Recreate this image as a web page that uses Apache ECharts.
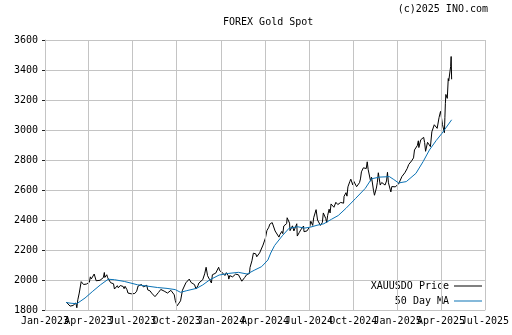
<!DOCTYPE html>
<html>
<head>
<meta charset="utf-8">
<script src="https://cdn.jsdelivr.net/npm/echarts@6/dist/echarts.min.js"></script>
<style>
html,body{margin:0;padding:0;background:#fff;}
#chart{width:512px;height:335px;}
</style>
</head>
<body>
<div id="chart"></div>
<script>
const titleText = 'FOREX Gold Spot';
const copyrightText = '(c)2025 INO.com';
const priceName = 'XAUUSDO Price';
const maName = '50 Day MA';

const tickDates = ['2023-01-01','2023-04-01','2023-07-01','2023-10-01','2024-01-01','2024-04-01','2024-07-01','2024-10-01','2025-01-01','2025-04-01','2025-07-01'];
const tickLabels = ['Jan-2023','Apr-2023','Jul-2023','Oct-2023','Jan-2024','Apr-2024','Jul-2024','Oct-2024','Jan-2025','Apr-2025','Jul-2025'];
const yTicks = [1800, 2000, 2200, 2400, 2600, 2800, 3000, 3200, 3400, 3600];

const priceDates = [
'2023-02-14','2023-02-17','2023-02-22','2023-02-24','2023-02-28','2023-03-02','2023-03-06','2023-03-08','2023-03-10','2023-03-13',
'2023-03-15','2023-03-17','2023-03-20','2023-03-22','2023-03-24','2023-03-28','2023-03-30','2023-04-03','2023-04-05','2023-04-07',
'2023-04-11','2023-04-13','2023-04-17','2023-04-19','2023-04-21','2023-04-25','2023-04-28','2023-05-02','2023-05-04','2023-05-05',
'2023-05-09','2023-05-11','2023-05-15','2023-05-17','2023-05-19','2023-05-23','2023-05-25','2023-05-29','2023-05-31','2023-06-02',
'2023-06-06','2023-06-08','2023-06-12','2023-06-14','2023-06-16','2023-06-20','2023-06-22','2023-06-26','2023-06-29','2023-07-03',
'2023-07-06','2023-07-10','2023-07-13','2023-07-17','2023-07-20','2023-07-24','2023-07-27','2023-07-31','2023-08-02','2023-08-07',
'2023-08-10','2023-08-14','2023-08-17','2023-08-21','2023-08-24','2023-08-29','2023-08-31','2023-09-05','2023-09-07','2023-09-12',
'2023-09-15','2023-09-19','2023-09-21','2023-09-26','2023-09-28','2023-10-02','2023-10-05','2023-10-09','2023-10-12','2023-10-13',
'2023-10-17','2023-10-20','2023-10-24','2023-10-27','2023-10-31','2023-11-03','2023-11-07','2023-11-10','2023-11-14','2023-11-16',
'2023-11-20','2023-11-24','2023-11-28','2023-12-01','2023-12-04','2023-12-06','2023-12-08','2023-12-12','2023-12-14','2023-12-18',
'2023-12-21','2023-12-27','2023-12-29',
'2024-01-02','2024-01-05','2024-01-09','2024-01-12','2024-01-16','2024-01-17','2024-01-19','2024-01-23','2024-01-25','2024-01-29',
'2024-01-31','2024-02-02','2024-02-06','2024-02-08','2024-02-13','2024-02-15','2024-02-19','2024-02-21','2024-02-23','2024-02-27',
'2024-02-29','2024-03-01','2024-03-05','2024-03-08','2024-03-11','2024-03-13','2024-03-15','2024-03-19','2024-03-21','2024-03-25',
'2024-03-28','2024-04-02','2024-04-04','2024-04-05','2024-04-09','2024-04-11','2024-04-12','2024-04-16','2024-04-19','2024-04-22',
'2024-04-24','2024-04-26','2024-04-30','2024-05-02','2024-05-06','2024-05-08','2024-05-10','2024-05-14','2024-05-16','2024-05-17',
'2024-05-20','2024-05-22','2024-05-23','2024-05-28','2024-05-31','2024-06-04','2024-06-06','2024-06-07','2024-06-11','2024-06-13',
'2024-06-14','2024-06-18','2024-06-20','2024-06-21','2024-06-25','2024-06-27','2024-07-01','2024-07-03','2024-07-05','2024-07-09',
'2024-07-11','2024-07-12','2024-07-16','2024-07-17','2024-07-19','2024-07-23','2024-07-25','2024-07-29','2024-07-31','2024-08-02',
'2024-08-05','2024-08-07','2024-08-09','2024-08-12','2024-08-14','2024-08-16','2024-08-20','2024-08-22','2024-08-26','2024-08-28',
'2024-08-30','2024-09-03','2024-09-05','2024-09-09','2024-09-11','2024-09-12','2024-09-16','2024-09-18','2024-09-20','2024-09-24',
'2024-09-26','2024-09-30','2024-10-02','2024-10-04','2024-10-08','2024-10-10','2024-10-14','2024-10-16','2024-10-18','2024-10-22',
'2024-10-24','2024-10-28','2024-10-30','2024-11-01','2024-11-05','2024-11-06','2024-11-08','2024-11-12','2024-11-14','2024-11-18',
'2024-11-20','2024-11-22','2024-11-26','2024-11-29','2024-12-03','2024-12-06','2024-12-09','2024-12-11','2024-12-13','2024-12-17',
'2024-12-18','2024-12-20','2024-12-24','2024-12-27','2024-12-31',
'2025-01-03','2025-01-07','2025-01-10','2025-01-14','2025-01-16','2025-01-21','2025-01-24','2025-01-28','2025-01-30','2025-02-03',
'2025-02-05','2025-02-07','2025-02-11','2025-02-13','2025-02-14','2025-02-18','2025-02-20','2025-02-24','2025-02-26','2025-02-28',
'2025-03-04','2025-03-06','2025-03-10','2025-03-13','2025-03-18','2025-03-20','2025-03-24','2025-03-26','2025-03-28','2025-03-31',
'2025-04-02','2025-04-03','2025-04-04','2025-04-08','2025-04-09','2025-04-10','2025-04-11','2025-04-14','2025-04-16','2025-04-17',
'2025-04-18','2025-04-21','2025-04-22','2025-04-23'
];
const priceValues = [
1853,1842,1826,1822,1830,1836,1847,1815,1868,1913,
1918,1989,1978,1970,1978,1973,1980,1985,2021,2007,
2003,2040,1995,1994,1983,1998,1990,2016,2050,2017,
2035,2015,2017,1982,1977,1975,1940,1943,1962,1948,
1963,1965,1957,1942,1958,1935,1913,1923,1908,1921,
1910,1925,1960,1955,1970,1954,1945,1965,1934,1927,
1913,1907,1889,1894,1916,1937,1940,1926,1919,1913,
1924,1931,1920,1901,1864,1828,1820,1861,1868,1932,
1923,1981,1971,2006,1983,1992,1969,1940,1962,1980,
1978,2002,2041,2085,2029,2026,2004,1980,2035,2027,
2046,2085,2063,
2059,2045,2030,2049,2028,2006,2029,2029,2021,2033,
2039,2039,2035,2033,1992,2004,2017,2025,2035,2031,
2044,2083,2128,2179,2182,2174,2155,2157,2181,2171,
2233,2280,2290,2329,2352,2372,2360,2383,2392,2327,
2316,2337,2286,2303,2324,2309,2360,2358,2376,2415,
2425,2379,2329,2361,2327,2327,2375,2293,2316,2304,
2333,2329,2360,2322,2319,2327,2332,2356,2392,2364,
2415,2411,2469,2459,2400,2409,2364,2384,2447,2443,
2410,2383,2431,2472,2447,2507,2514,2485,2518,2505,
2503,2493,2517,2505,2512,2558,2582,2559,2621,2657,
2672,2634,2659,2653,2622,2630,2649,2674,2721,2748,
2735,2743,2788,2736,2743,2659,2685,2598,2565,2613,
2651,2715,2633,2650,2644,2633,2660,2718,2648,2646,
2587,2623,2618,2621,2625,
2640,2648,2690,2677,2715,2744,2770,2763,2794,2814,
2867,2861,2897,2928,2883,2935,2939,2951,2916,2858,
2918,2910,2889,2988,3035,3043,3011,3019,3084,3124,
3134,3114,3037,2982,3082,3175,3237,3211,3343,3327,
3327,3424,3490,3338
];

const maDates = [
'2023-02-14','2023-02-24','2023-03-08','2023-03-25','2023-04-10','2023-04-26','2023-05-12','2023-05-25','2023-06-15','2023-07-12',
'2023-08-22','2023-09-11','2023-09-28','2023-10-09','2023-10-22','2023-11-11','2023-11-24','2023-12-08','2023-12-28',
'2024-01-17','2024-02-06','2024-02-24','2024-03-11','2024-03-25','2024-04-07','2024-04-13','2024-04-21','2024-05-07','2024-05-21',
'2024-06-08','2024-06-22','2024-07-05','2024-07-18','2024-08-01','2024-08-17','2024-08-31','2024-09-16','2024-10-06','2024-10-26',
'2024-11-08','2024-11-25','2024-12-15','2024-12-24',
'2025-01-03','2025-01-19','2025-02-08','2025-02-23','2025-03-08','2025-03-22','2025-04-03','2025-04-23'
];
const maValues = [
1850,1845,1842,1880,1925,1968,2005,2002,1990,1968,
1950,1944,1936,1918,1929,1944,1967,2000,2033,
2044,2051,2040,2067,2089,2133,2180,2230,2295,2345,
2355,2346,2353,2365,2375,2405,2430,2478,2544,2611,
2675,2686,2689,2670,
2647,2656,2711,2790,2867,2930,2978,3068
];

const dayOf = s => { const p = s.split('-').map(Number); return Math.round(Date.UTC(p[0], p[1] - 1, p[2]) / 86400000); };
const day0 = dayOf(tickDates[0]);
const xd = s => dayOf(s) - day0;
const tickX = tickDates.map(xd);
const evenX = tickX.filter((_, i) => i % 2 === 0);
const oddX = tickX.filter((_, i) => i % 2 === 1);
const labelFor = v => {
  let best = 0, bd = Infinity;
  tickX.forEach((t, i) => { const d = Math.abs(t - v); if (d < bd) { bd = d; best = i; } });
  return tickLabels[best];
};

const FONT = 'DejaVu Sans Mono';
const GRID = '#c4c4c4';
const xMin = tickX[0], xMax = tickX[tickX.length - 1];
const labelStyle = {formatter: v => labelFor(v), fontFamily: FONT, fontSize: 10, color: '#000', margin: 6,
  showMinLabel: true, showMaxLabel: true, hideOverlap: false};

const chart = echarts.init(document.getElementById('chart'), null, {renderer: 'canvas'});
chart.setOption({
  animation: false,
  backgroundColor: '#ffffff',
  title: [
    {text: titleText, left: 223, top: 16, padding: 0,
     textStyle: {fontFamily: FONT, fontSize: 10, fontWeight: 'normal', color: '#000', lineHeight: 12}},
    {text: copyrightText, right: 24, top: 3, padding: 0,
     textStyle: {fontFamily: FONT, fontSize: 10, fontWeight: 'normal', color: '#000', lineHeight: 12}}
  ],
  legend: [
    {data: [priceName], right: 30, top: 281, padding: 0, align: 'right', itemWidth: 28, itemHeight: 1, icon: 'rect',
     textStyle: {fontFamily: FONT, fontSize: 10, color: '#000'}},
    {data: [maName], right: 30, top: 296, padding: 0, align: 'right', itemWidth: 28, itemHeight: 1, icon: 'rect',
     textStyle: {fontFamily: FONT, fontSize: 10, color: '#000'}}
  ],
  grid: {left: 45, right: 20, top: 40, bottom: 25, containLabel: false},
  xAxis: [
    {type: 'value', min: xMin, max: xMax, position: 'bottom',
     axisLine: {show: true, lineStyle: {color: GRID, width: 1}},
     axisTick: {show: true, inside: true, length: 4, customValues: tickX, lineStyle: {color: '#222'}},
     axisLabel: Object.assign({customValues: evenX}, labelStyle),
     splitLine: {show: false}},
    {type: 'value', min: xMin, max: xMax, position: 'top',
     axisLine: {show: false},
     axisTick: {show: true, inside: true, length: 3, customValues: tickX, lineStyle: {color: '#222'}},
     axisLabel: {show: false},
     splitLine: {show: false}},
    {type: 'value', min: xMin, max: xMax, position: 'bottom', offset: 0,
     axisLine: {show: false},
     axisTick: {show: false},
     axisLabel: Object.assign({customValues: oddX}, labelStyle),
     splitLine: {show: false}}
  ],
  yAxis: {
    type: 'value', min: yTicks[0], max: yTicks[yTicks.length - 1], interval: 200,
    axisLine: {show: true, lineStyle: {color: GRID, width: 1}},
    axisTick: {show: true, inside: false, length: 3, lineStyle: {color: '#222'}},
    axisLabel: {fontFamily: FONT, fontSize: 10, color: '#000', margin: 7, formatter: v => String(v)},
    splitLine: {show: true, lineStyle: {color: GRID, width: 1}}
  },
  series: [
    {name: 'grid-v', type: 'line', data: [], z: 1, silent: true,
     markLine: {silent: true, symbol: 'none', label: {show: false}, animation: false,
       lineStyle: {color: GRID, type: 'solid', width: 1},
       data: tickX.map(t => ({xAxis: t}))}},
    {name: priceName, type: 'line', data: priceDates.map((d, i) => [xd(d), priceValues[i]]),
     symbol: 'none', smooth: false, z: 4, lineStyle: {color: '#000', width: 1}, itemStyle: {color: '#000'}},
    {name: maName, type: 'line', data: maDates.map((d, i) => [xd(d), maValues[i]]),
     symbol: 'none', smooth: false, z: 5, lineStyle: {color: '#0a72b5', width: 1}, itemStyle: {color: '#0a72b5'}}
  ]
});
</script>
</body>
</html>
